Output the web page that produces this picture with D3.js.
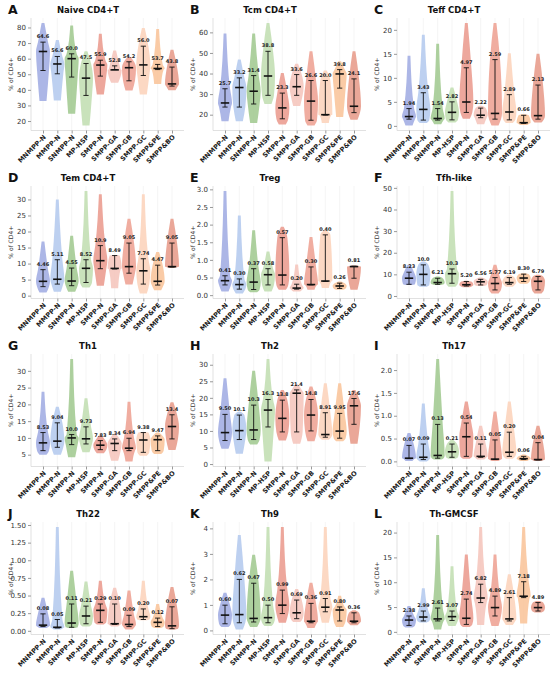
<!DOCTYPE html>
<html>
<head>
<meta charset="utf-8">
<script src="https://cdn.jsdelivr.net/npm/d3@7"></script>
<style>
  body { margin: 0; background: #fff; }
  text { font-family: "DejaVu Sans", sans-serif; }
</style>
</head>
<body>
<script>
// groups shown in every panel
var categories = ["MNMPP-N", "MMPP-N", "SNMPP-N", "MP-HSP", "SMPP-N", "SMPP-GA", "SMPP-GB", "SMPP-GC", "SMPP&PE", "SMPP&BO"];
var groupColors = ["#a3aee3", "#b6cbee", "#a4cb93", "#c3dfb4", "#eb9d91", "#f5c6be", "#eea496", "#fcd4bc", "#f9c59c", "#e89d8d"];

var letters = ["A", "B", "C", "D", "E", "F", "G", "H", "I", "J", "K", "L"];
var titles = ["Naive CD4+T", "Tcm CD4+T", "Teff CD4+T", "Tem CD4+T", "Treg", "Tfh-like",
  "Th1", "Th2", "Th17", "Th22", "Th9", "Th-GMCSF"];

// medians (printed above each violin)
var naiveMed = [64.6, 56.6, 60.0, 47.5, 55.9, 52.8, 54.2, 56.0, 53.7, 43.8];
var tcmMed = [25.7, 33.2, 31.4, 38.8, 23.3, 33.6, 26.6, 20.0, 39.8, 24.1];
var teffMed = [1.94, 3.43, 1.54, 2.82, 4.97, 2.22, 2.59, 2.89, 0.66, 2.13];
var temMed = [4.46, 5.11, 4.55, 8.52, 10.9, 8.49, 9.05, 7.74, 4.47, 9.05];
var tregMed = [0.41, 0.30, 0.37, 0.58, 0.57, 0.20, 0.30, 0.40, 0.26, 0.81];
var tfhMed = [8.23, 10.0, 6.21, 10.3, 5.20, 6.56, 5.77, 6.19, 8.30, 6.79];
var th1Med = [8.53, 9.04, 10.0, 9.73, 7.83, 8.34, 6.94, 9.38, 9.47, 13.4];
var th2Med = [9.50, 10.1, 10.3, 16.3, 13.8, 21.4, 14.8, 8.91, 9.95, 17.6];
var th17Med = [0.07, 0.09, 0.13, 0.21, 0.54, 0.11, 0.05, 0.20, 0.06, 0.04];
var th22Med = [0.08, 0.05, 0.11, 0.21, 0.29, 0.10, 0.09, 0.20, 0.12, 0.07];
var th9Med = [0.60, 0.62, 0.47, 0.50, 0.99, 0.69, 0.36, 0.91, 0.80, 0.36];
var gmcsfMed = [2.38, 2.99, 2.61, 3.07, 2.74, 6.82, 4.89, 2.61, 7.18, 4.89];

// [violin min, lower bar, upper bar, violin max]
var naiveRange = [[32.8, 52.4, 70.6, 82.8], [33.2, 50.3, 61.4, 71.9], [24.7, 48.2, 63.1, 81.3], [17.2, 36.4, 56.9, 64.8], [37.0, 48.8, 59.0, 75.9],
  [44.5, 53.0, 55.4, 65.3], [39.6, 45.8, 58.0, 61.0], [37.0, 49.2, 68.0, 79.6], [43.7, 53.0, 56.3, 79.0], [39.8, 42.4, 54.6, 65.7]];
var tcmRange = [[16.8, 23.7, 32.6, 59.5], [16.8, 23.7, 37.9, 46.8], [16.0, 25.2, 39.0, 59.5], [25.2, 29.4, 50.8, 64.5], [15.2, 18.0, 30.5, 40.2],
  [24.2, 29.4, 39.5, 44.7], [14.8, 17.3, 36.6, 50.8], [16.0, 19.8, 36.6, 41.5], [18.9, 32.9, 41.9, 46.0], [17.6, 21.0, 37.4, 50.8]];
var teffRange = [[0.1, 1.4, 3.6, 14.6], [0.6, 1.2, 6.9, 19.0], [0.35, 1.2, 3.6, 17.1], [0.7, 1.25, 5.0, 8.0], [1.5, 2.8, 12.1, 21.4],
  [0.35, 1.7, 3.7, 4.2], [0.1, 1.4, 13.8, 21.4], [0.6, 1.25, 6.5, 15.1], [0.2, 0.5, 2.2, 2.4], [0.7, 1.4, 8.5, 15.0]];
var temRange = [[1.0, 2.8, 8.1, 16.9], [1.2, 3.6, 11.2, 30.0], [1.2, 3.1, 8.6, 18.7], [2.5, 4.1, 11.2, 32.6], [3.1, 8.4, 15.6, 31.6],
  [2.3, 8.3, 12.5, 12.7], [3.5, 7.0, 16.4, 24.0], [0.7, 3.6, 11.5, 31.6], [1.7, 3.3, 9.5, 13.6], [8.7, 8.9, 16.4, 24.0]];
var tregRange = [[0.1, 0.29, 0.55, 2.95], [0.05, 0.17, 0.46, 2.26], [0.08, 0.16, 0.75, 1.84], [0.1, 0.29, 0.75, 1.24], [0.15, 0.29, 1.63, 1.94],
  [0.1, 0.17, 0.31, 0.87], [0.15, 0.29, 0.8, 1.65], [0.2, 0.39, 1.71, 1.84], [0.15, 0.19, 0.34, 0.39], [0.15, 0.48, 0.82, 0.84]];
var tfhRange = [[5.1, 5.4, 11.0, 14.4], [4.3, 5.1, 14.4, 15.9], [5.1, 5.4, 8.2, 9.0], [4.3, 5.9, 12.5, 48.5], [4.0, 4.6, 6.7, 7.1],
  [4.6, 5.1, 7.7, 8.5], [1.2, 2.8, 8.5, 14.4], [4.3, 5.4, 8.5, 9.8], [5.6, 6.7, 10.1, 10.5], [1.2, 2.8, 9.0, 9.8]];
var th1Range = [[5.0, 6.2, 11.6, 23.8], [5.0, 7.2, 14.5, 19.3], [4.2, 8.0, 11.0, 33.5], [5.7, 8.2, 13.3, 21.8], [5.4, 6.5, 9.2, 10.7],
  [3.2, 6.2, 9.7, 11.2], [3.0, 6.2, 9.9, 20.8], [4.7, 5.7, 11.6, 11.8], [5.2, 6.2, 10.6, 11.6], [6.4, 9.7, 16.9, 20.6]];
var th2Range = [[4.6, 7.1, 15.0, 25.9], [3.1, 7.4, 14.8, 15.8], [5.9, 7.4, 17.8, 28.2], [0.8, 11.2, 19.5, 31.7], [7.1, 9.7, 19.3, 22.4],
  [6.1, 9.7, 22.4, 24.1], [6.9, 10.0, 19.5, 23.4], [7.3, 8.1, 15.5, 24.4], [6.9, 7.8, 15.3, 24.4], [6.1, 12.0, 19.8, 22.4]];
var th17Range = [[0.01, 0.06, 0.35, 0.62], [0.0, 0.04, 0.38, 1.27], [0.04, 0.07, 0.81, 2.24], [0.06, 0.09, 0.38, 0.47], [0.06, 0.11, 0.84, 1.31],
  [0.04, 0.09, 0.38, 0.78], [0.01, 0.04, 0.47, 1.09], [0.06, 0.11, 0.64, 1.31], [0.01, 0.04, 0.11, 0.15], [0.01, 0.03, 0.41, 0.78]];
var th22Range = [[0.04, 0.06, 0.24, 0.47], [0.02, 0.04, 0.16, 1.47], [0.04, 0.05, 0.38, 0.85], [0.06, 0.10, 0.35, 0.70], [0.09, 0.12, 0.38, 0.71],
  [0.06, 0.09, 0.38, 0.61], [0.02, 0.06, 0.22, 0.57], [0.15, 0.16, 0.31, 0.71], [0.04, 0.06, 0.18, 0.38], [0.02, 0.03, 0.34, 0.62]];
var th9Range = [[0.13, 0.26, 0.99, 1.48], [0.04, 0.3, 2.0, 3.74], [0.13, 0.33, 1.85, 2.97], [0.17, 0.3, 0.99, 4.05], [0.3, 0.66, 1.58, 4.05],
  [0.33, 0.46, 1.19, 1.62], [0.09, 0.3, 1.06, 1.87], [0.3, 0.73, 1.25, 4.05], [0.13, 0.37, 0.92, 1.36], [0.2, 0.3, 0.69, 0.79]];
var gmcsfRange = [[0.9, 1.3, 3.2, 5.2], [1.9, 2.2, 4.2, 8.8], [0.5, 2.2, 4.8, 19.5], [1.2, 2.3, 4.2, 13.2], [1.0, 1.5, 6.6, 15.6],
  [1.4, 5.9, 9.6, 21.1], [1.2, 3.2, 7.2, 15.6], [1.4, 2.2, 6.9, 11.6], [1.7, 6.9, 10.1, 21.1], [3.9, 4.2, 5.9, 6.2]];

// y tick labels per panel
var naiveTicks = [20, 30, 40, 50, 60, 70, 80];
var tcmTicks = [20, 30, 40, 50, 60];
var teffTicks = [0, 5, 10, 15, 20];
var temTicks = [0, 5, 10, 15, 20, 25, 30];
var tregTicks = [0, 0.5, 1.0, 1.5, 2.0, 2.5, 3.0];
var tfhTicks = [0, 10, 20, 30, 40, 50];
var th1Ticks = [5, 10, 15, 20, 25, 30];
var th2Ticks = [0, 5, 10, 15, 20, 25, 30];
var th17Ticks = [0, 0.5, 1.0, 1.5, 2.0];
var th22Ticks = [0, 0.25, 0.5, 0.75, 1.0, 1.25, 1.5];
var th9Ticks = [0, 1, 2, 3, 4];
var gmcsfTicks = [0, 5, 10, 15, 20];
var tickFormats = ["d", "d", "d", "d", ".1f", "d", "d", "d", ".1f", ".2f", "d", "d"];

var meds = [naiveMed, tcmMed, teffMed, temMed, tregMed, tfhMed, th1Med, th2Med, th17Med, th22Med, th9Med, gmcsfMed];
var ranges = [naiveRange, tcmRange, teffRange, temRange, tregRange, tfhRange, th1Range, th2Range, th17Range, th22Range, th9Range, gmcsfRange];
var ticks = [naiveTicks, tcmTicks, teffTicks, temTicks, tregTicks, tfhTicks, th1Ticks, th2Ticks, th17Ticks, th22Ticks, th9Ticks, gmcsfTicks];

var svg = d3.select("body").append("svg")
  .attr("width", 550)
  .attr("height", 673);

var colX = [31, 213, 397];   // left spine of each column
var rowY = [0, 168, 336, 504];
var plotW = 153, plotTop = 18, plotBottom = 130.5;

function medLabel(v) {
  return v >= 10 ? d3.format(".1f")(v) : d3.format(".2f")(v);
}

letters.forEach(function (letter, i) {
  var left = colX[i % 3], top = rowY[Math.floor(i / 3)];
  var g = svg.append("g");
  var med = meds[i], rng = ranges[i];

  var lo = d3.min(rng, function (d) { return d[0]; });
  var hi = d3.max(rng, function (d) { return d[3]; });
  var pad = (hi - lo) * 0.05;

  var x = d3.scalePoint()
    .domain(categories)
    .range([left + 12, left + 141]);

  var y = d3.scaleLinear()
    .domain([lo - pad, hi + pad])
    .range([top + plotBottom, top + plotTop]);

  var halfW = x.step() * 0.49;

  // faint vertical grid
  g.selectAll(".grid")
    .data(categories)
    .enter().append("line")
    .attr("x1", function (d) { return x(d); })
    .attr("x2", function (d) { return x(d); })
    .attr("y1", top + plotTop)
    .attr("y2", top + plotBottom)
    .attr("stroke", "#efefef")
    .attr("stroke-width", 0.6);

  // violins
  var area = d3.area()
    .y(function (p) { return y(p[0]); })
    .x0(function (p) { return p[2] - p[1] * halfW; })
    .x1(function (p) { return p[2] + p[1] * halfW; })
    .curve(d3.curveMonotoneY);

  g.selectAll(".violin")
    .data(categories)
    .enter().append("path")
    .attr("d", function (c, j) {
      var r = rng[j], cx = x(c);
      var pts = [[r[0], 0.5, cx], [r[1], 0.85, cx], [med[j], 1, cx], [r[2], 0.72, cx], [r[3], 0.2, cx]];
      pts.sort(function (a, b) { return a[0] - b[0]; });
      for (var k = 1; k < pts.length; k++) {
        if (pts[k][0] <= pts[k - 1][0]) pts[k][0] = pts[k - 1][0] + (hi - lo) * 0.002;
      }
      return area(pts);
    })
    .attr("fill", function (c, j) { return groupColors[j]; })
    .attr("fill-opacity", 0.9);

  // error bars
  var bars = g.selectAll(".bar")
    .data(categories)
    .enter().append("g")
    .attr("stroke", "#111");

  bars.append("line")
    .attr("x1", function (c) { return x(c); })
    .attr("x2", function (c) { return x(c); })
    .attr("y1", function (c, j) { return y(rng[j][1]); })
    .attr("y2", function (c, j) { return y(rng[j][2]); })
    .attr("stroke-width", 0.9);

  [1, 2].forEach(function (k) {
    bars.append("line")
      .attr("x1", function (c) { return x(c) - 2.6; })
      .attr("x2", function (c) { return x(c) + 2.6; })
      .attr("y1", function (c, j) { return y(rng[j][k]); })
      .attr("y2", function (c, j) { return y(rng[j][k]); })
      .attr("stroke-width", 0.9);
  });

  bars.append("line")
    .attr("x1", function (c) { return x(c) - 4.2; })
    .attr("x2", function (c) { return x(c) + 4.2; })
    .attr("y1", function (c, j) { return y(med[j]); })
    .attr("y2", function (c, j) { return y(med[j]); })
    .attr("stroke-width", 1.6);

  // median values
  g.selectAll(".lbl")
    .data(categories)
    .enter().append("text")
    .attr("x", function (c) { return x(c); })
    .attr("y", function (c, j) { return y(rng[j][2]) - 4; })
    .attr("text-anchor", "middle")
    .attr("font-size", 5)
    .attr("font-weight", "bold")
    .attr("fill", "#222")
    .text(function (c, j) { return medLabel(med[j]); });

  // spines
  g.append("line")
    .attr("x1", left).attr("x2", left)
    .attr("y1", top + plotTop).attr("y2", top + plotBottom)
    .attr("stroke", "#d4d4d4").attr("stroke-width", 0.7);
  g.append("line")
    .attr("x1", left).attr("x2", left + plotW)
    .attr("y1", top + plotBottom).attr("y2", top + plotBottom)
    .attr("stroke", "#d4d4d4").attr("stroke-width", 0.7);

  // y axis
  var yAxis = g.append("g")
    .attr("transform", "translate(" + left + ",0)")
    .call(d3.axisLeft(y).tickValues(ticks[i]).tickFormat(d3.format(tickFormats[i])).tickSize(3).tickPadding(2));
  yAxis.select(".domain").remove();
  yAxis.selectAll(".tick line").attr("stroke", "#999");
  yAxis.selectAll(".tick text")
    .attr("font-size", 7)
    .attr("fill", "#333")
    .style("font-family", "DejaVu Sans, sans-serif");

  // x axis
  var xAxis = g.append("g")
    .attr("transform", "translate(0," + (top + plotBottom) + ")")
    .call(d3.axisBottom(x).tickSize(3));
  xAxis.select(".domain").remove();
  xAxis.selectAll(".tick line").attr("stroke", "#999");
  xAxis.selectAll(".tick text")
    .attr("font-size", 6.6)
    .attr("font-weight", "bold")
    .attr("fill", "#222")
    .attr("text-anchor", "end")
    .attr("dy", null)
    .attr("y", 0)
    .attr("transform", "translate(3,7) rotate(-45)")
    .style("font-family", "DejaVu Sans, sans-serif");

  // y label
  g.append("text")
    .attr("transform", "translate(" + (left - 18) + "," + (top + (plotTop + plotBottom) / 2) + ") rotate(-90)")
    .attr("text-anchor", "middle")
    .attr("font-size", 6)
    .attr("fill", "#333")
    .text("% of CD4+");

  // panel letter and title
  g.append("text")
    .attr("x", left - 23)
    .attr("y", top + 14)
    .attr("font-size", 12.5)
    .attr("font-weight", "bold")
    .attr("fill", "#111")
    .text(letter);

  g.append("text")
    .attr("x", left + 57)
    .attr("y", top + 13)
    .attr("text-anchor", "middle")
    .attr("font-size", 8.5)
    .attr("font-weight", "bold")
    .attr("fill", "#111")
    .text(titles[i]);
});
</script>
</body>
</html>
